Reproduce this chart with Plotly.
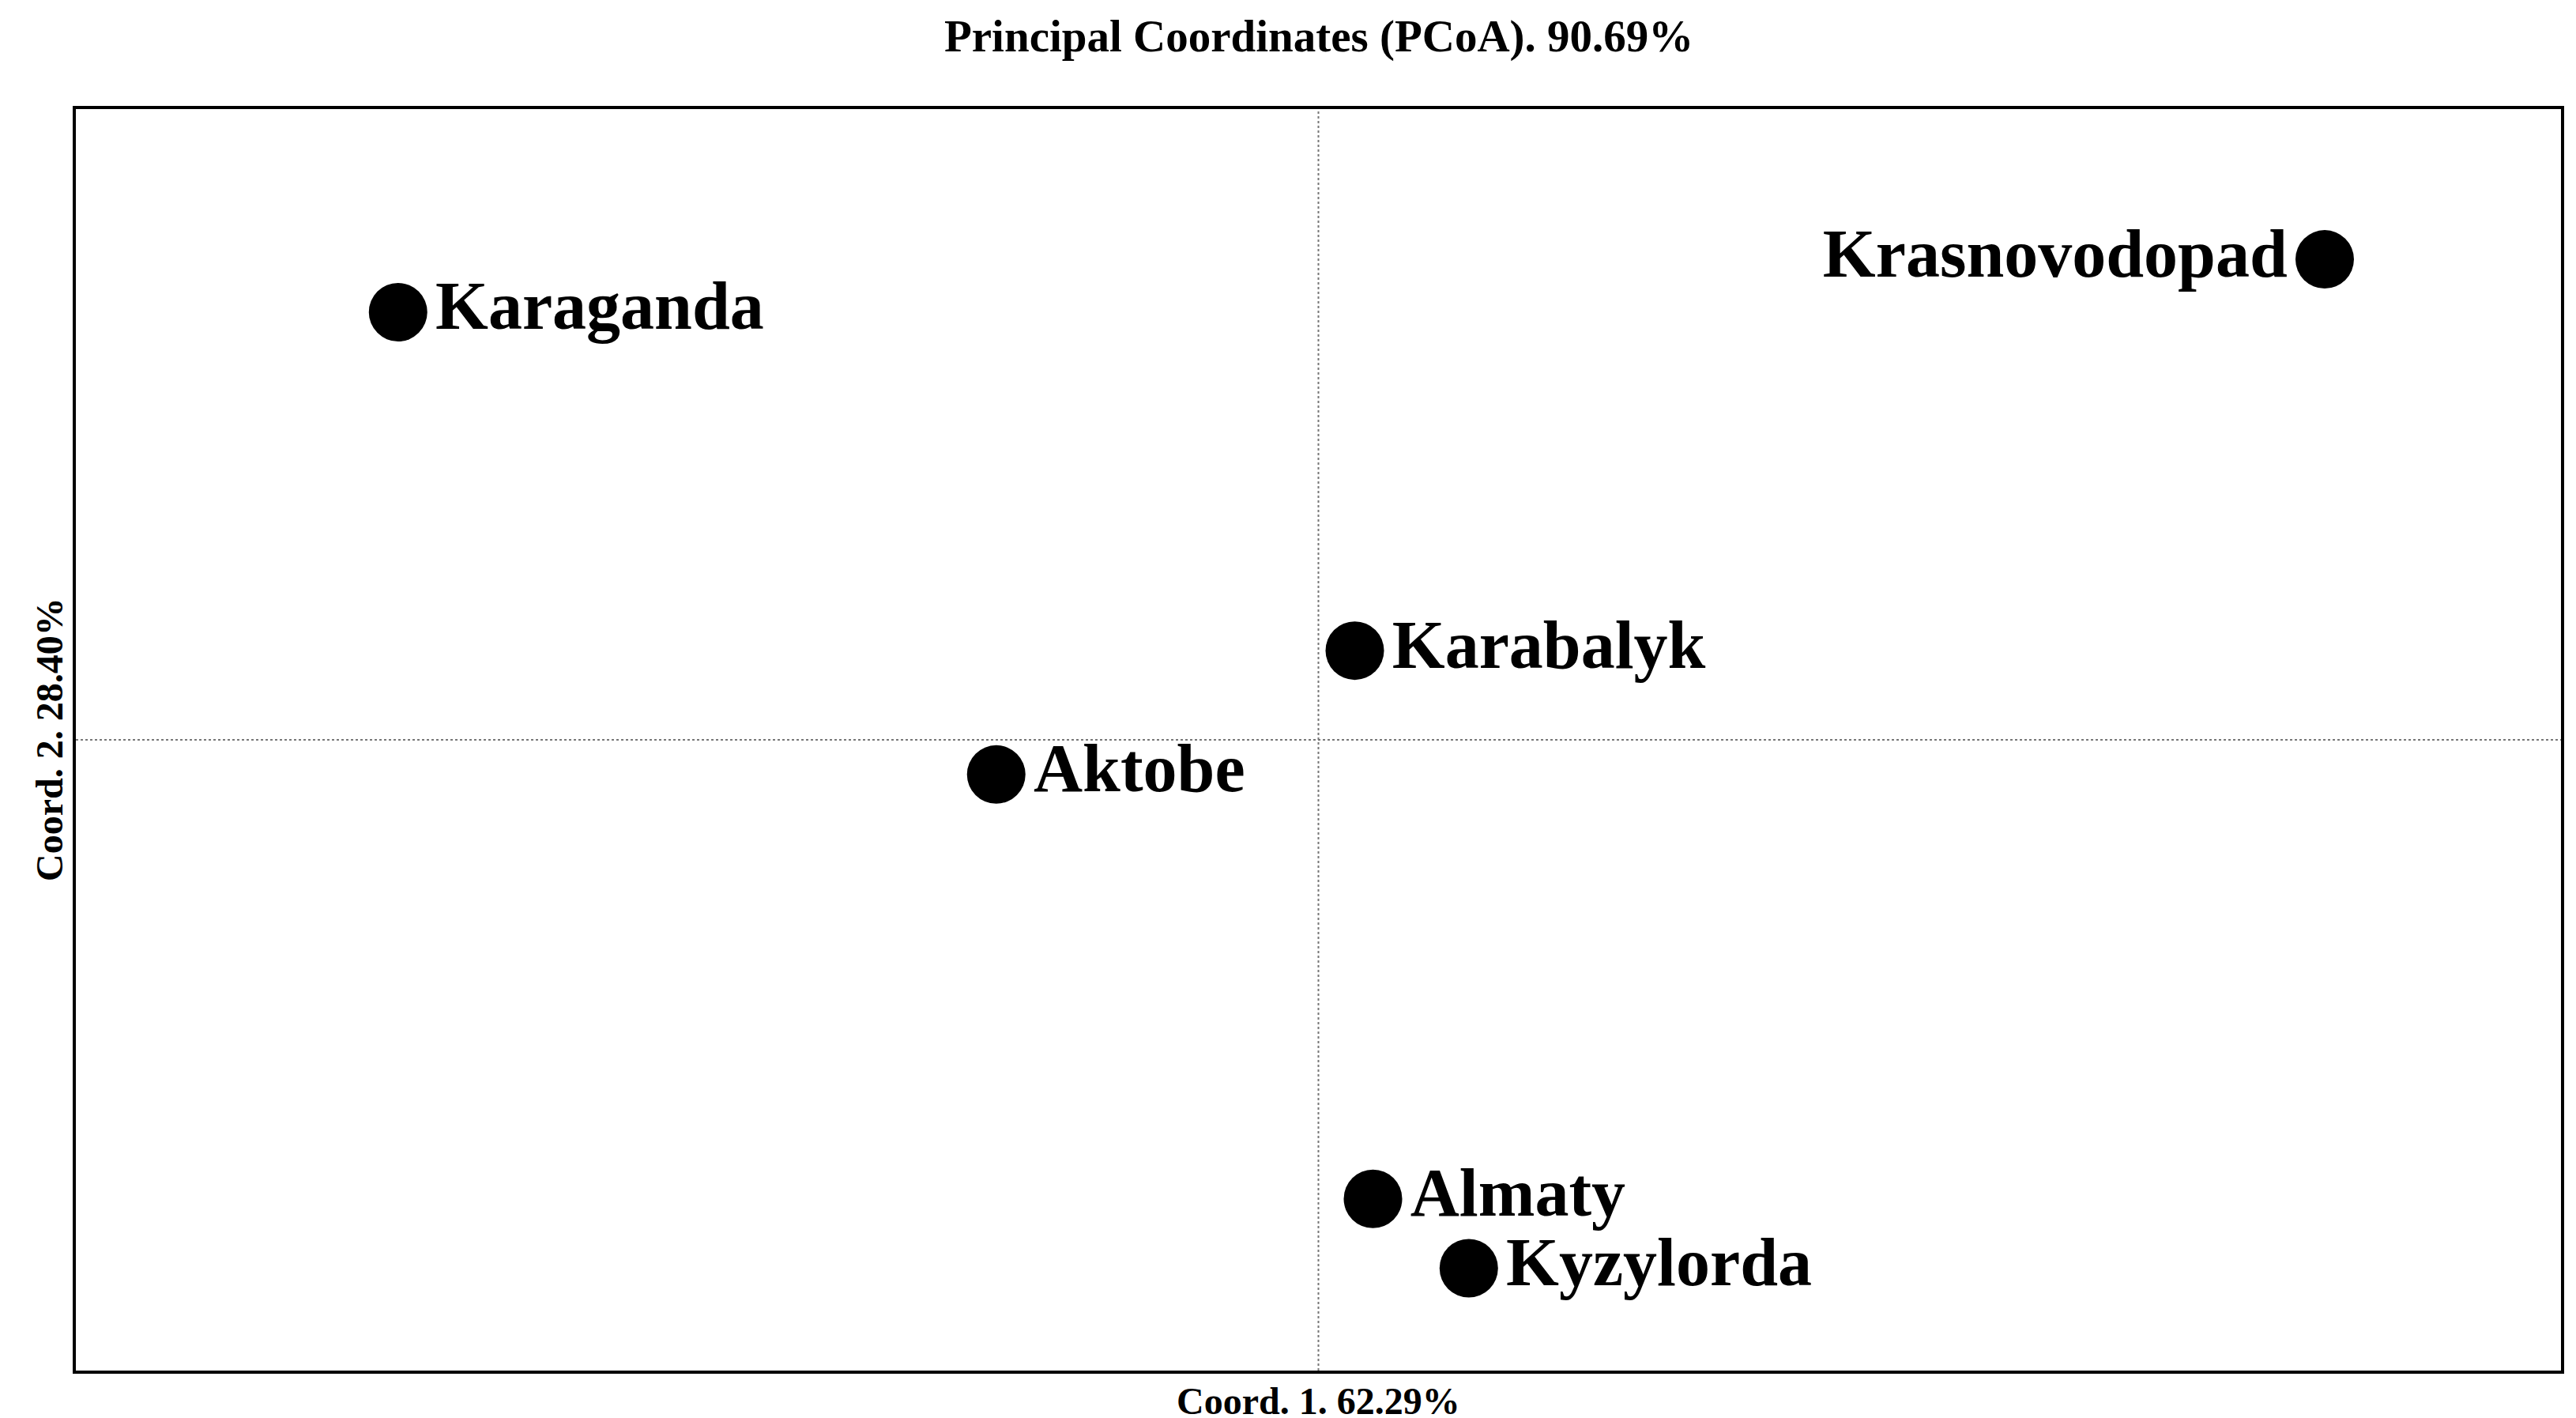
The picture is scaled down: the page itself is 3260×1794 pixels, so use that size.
import plotly.graph_objects as go

# PCoA coordinates (arbitrary units)
sites = ["Karaganda", "Krasnovodopad", "Karabalyk", "Aktobe", "Almaty", "Kyzylorda"]
coord1 = [-5.57, 6.09, 0.22, -1.95, 0.33, 0.91]
coord2 = [2.59, 2.91, 0.54, -0.21, -2.78, -3.20]
text_pos = ["middle right", "middle left", "middle right", "middle right", "middle right", "middle right"]

font = "Liberation Serif"

fig = go.Figure()
fig.add_trace(go.Scatter(
    x=coord1, y=coord2, mode="markers+text",
    text=sites, textposition=text_pos,
    marker=dict(size=74, color="black"),
    textfont=dict(family=font, size=86, color="black", weight="bold"),
    cliponaxis=False, showlegend=False,
))

# dotted crosshair through the origin
fig.add_shape(type="line", xref="x", yref="paper", x0=0, x1=0, y0=0, y1=1,
              line=dict(color="#777", width=2, dash="dot"))
fig.add_shape(type="line", xref="paper", yref="y", x0=0, x1=1, y0=0, y1=0,
              line=dict(color="#777", width=2, dash="dot"))

fig.update_xaxes(range=[-7.52, 7.52], showgrid=False, zeroline=False, showticklabels=False,
                 ticks="", showline=True, mirror=True, linecolor="black", linewidth=4)
fig.update_yaxes(range=[-3.82, 3.82], showgrid=False, zeroline=False, showticklabels=False,
                 ticks="", showline=True, mirror=True, linecolor="black", linewidth=4)

fig.add_annotation(text="<b>Principal Coordinates (PCoA). 90.69%</b>", xref="paper", yref="paper",
                   x=0.5, y=1, yanchor="middle", yshift=92, showarrow=False,
                   font=dict(family=font, size=57, color="black"))
fig.add_annotation(text="<b>Coord. 1. 62.29%</b>", xref="paper", yref="paper",
                   x=0.5, y=0, yanchor="middle", yshift=-38, showarrow=False,
                   font=dict(family=font, size=48, color="black"))
fig.add_annotation(text="<b>Coord. 2. 28.40%</b>", xref="paper", yref="paper",
                   x=0, y=0.5, xanchor="center", yanchor="middle", xshift=-34,
                   showarrow=False, textangle=-90,
                   font=dict(family=font, size=48, color="black"))

fig.update_layout(
    width=3260, height=1794,
    margin=dict(l=88, r=27, t=130, b=68),
    plot_bgcolor="white", paper_bgcolor="white",
)

fig.write_html("out.html")
